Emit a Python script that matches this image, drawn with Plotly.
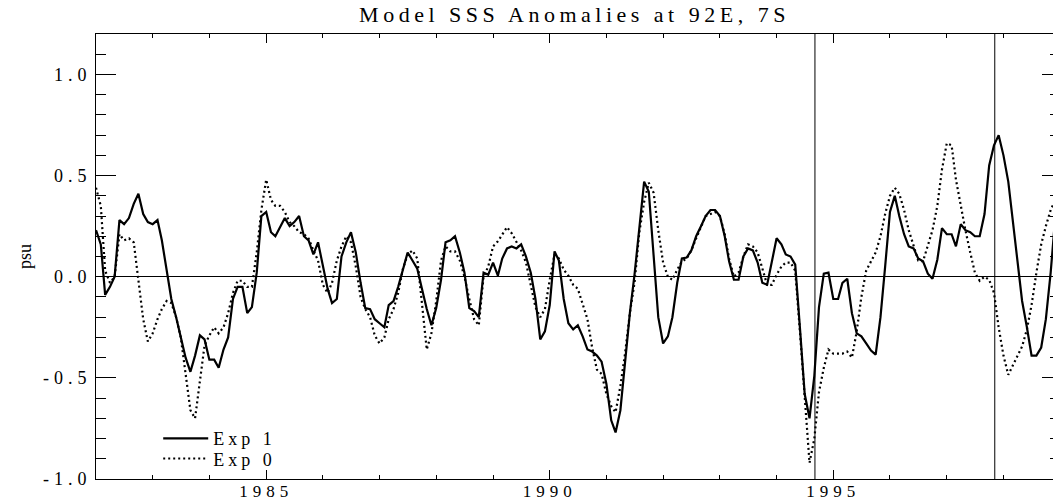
import pandas as pd
import plotly.graph_objects as go

# ---------------- data ----------------
START_MONTH = "1982-01-01"

EXP1 = [0.23, 0.16, -0.09, -0.05, 0.00, 0.28, 0.26, 0.29, 0.36, 0.41, 0.31, 0.27,
        0.26, 0.28, 0.18, 0.04, -0.11, -0.20, -0.30, -0.40, -0.47, -0.39, -0.29, -0.31,
        -0.41, -0.41, -0.45, -0.36, -0.30, -0.11, -0.05, -0.05, -0.18, -0.15, 0.02, 0.30,
        0.32, 0.22, 0.20, 0.25, 0.29, 0.25, 0.27, 0.30, 0.20, 0.18, 0.11, 0.17,
        0.05, -0.06, -0.13, -0.11, 0.10, 0.17, 0.22, 0.12, -0.03, -0.155, -0.16, -0.21,
        -0.23, -0.25, -0.14, -0.12, -0.05, 0.03, 0.12, 0.08, 0.04, -0.06, -0.16, -0.24,
        -0.155, -0.015, 0.17, 0.18, 0.20, 0.12, 0.02, -0.155, -0.17, -0.20, 0.02, 0.01,
        0.07, 0.005, 0.09, 0.14, 0.15, 0.14, 0.16, 0.10, 0.02, -0.11, -0.31, -0.27,
        -0.14, 0.125, 0.08, -0.11, -0.23, -0.26, -0.24, -0.295, -0.36, -0.37, -0.39, -0.42,
        -0.53, -0.71, -0.77, -0.66, -0.43, -0.18, 0.01, 0.23, 0.47, 0.42, 0.09, -0.20,
        -0.33, -0.295, -0.20, -0.03, 0.09, 0.095, 0.13, 0.20, 0.25, 0.30, 0.33, 0.33,
        0.30, 0.20, 0.076, -0.015, -0.015, 0.10, 0.14, 0.13, 0.07, -0.03, -0.04, 0.08,
        0.19, 0.16, 0.11, 0.10, 0.06, -0.26, -0.58, -0.70, -0.49, -0.15, 0.015, 0.02,
        -0.11, -0.11, -0.03, -0.01, -0.18, -0.28, -0.295, -0.33, -0.365, -0.385, -0.20, 0.05,
        0.32, 0.40, 0.30, 0.21, 0.15, 0.14, 0.09, 0.076, 0.015, -0.01, 0.084, 0.24,
        0.21, 0.21, 0.15, 0.26, 0.23, 0.22, 0.20, 0.20, 0.31, 0.55, 0.65, 0.70,
        0.60, 0.47, 0.28, 0.08, -0.12, -0.25, -0.39, -0.39, -0.35, -0.21, 0.02, 0.30]

EXP0 = [0.44, 0.35, 0.03, -0.03, 0.00, 0.21, 0.18, 0.19, 0.17, -0.01, -0.21, -0.32,
        -0.28, -0.21, -0.16, -0.12, -0.13, -0.20, -0.30, -0.48, -0.66, -0.70, -0.52, -0.34,
        -0.29, -0.25, -0.28, -0.25, -0.18, -0.08, -0.02, -0.02, -0.05, -0.05, 0.12, 0.33,
        0.48, 0.38, 0.35, 0.35, 0.32, 0.27, 0.25, 0.22, 0.21, 0.19, 0.13, 0.08,
        -0.04, -0.08, -0.03, 0.08, 0.15, 0.20, 0.17, 0.05, -0.10, -0.16, -0.20, -0.29,
        -0.33, -0.30, -0.21, -0.16, -0.08, 0.04, 0.11, 0.13, 0.09, -0.12, -0.36, -0.28,
        -0.12, 0.08, 0.15, 0.125, 0.125, 0.08, 0.00, -0.11, -0.21, -0.24, 0.00, 0.05,
        0.15, 0.175, 0.21, 0.245, 0.215, 0.175, 0.13, 0.07, -0.05, -0.15, -0.20, -0.16,
        -0.015, 0.11, 0.09, 0.035, 0.005, -0.04, -0.06, -0.13, -0.21, -0.35, -0.46, -0.48,
        -0.58, -0.64, -0.67, -0.54, -0.38, -0.18, -0.03, 0.22, 0.37, 0.465, 0.415, 0.23,
        0.07, 0.00, -0.015, 0.035, 0.075, 0.09, 0.13, 0.19, 0.25, 0.30, 0.31, 0.32,
        0.30, 0.21, 0.09, 0.00, 0.02, 0.10, 0.16, 0.15, 0.12, 0.04, -0.04, -0.04,
        0.01, 0.05, 0.07, 0.07, 0.03, -0.28, -0.58, -0.92, -0.80, -0.57, -0.45, -0.36,
        -0.38, -0.38, -0.38, -0.37, -0.40, -0.27, -0.10, 0.03, 0.08, 0.12, 0.20, 0.31,
        0.40, 0.44, 0.41, 0.33, 0.23, 0.15, 0.08, 0.076, 0.15, 0.23, 0.35, 0.53,
        0.66, 0.65, 0.48, 0.35, 0.23, 0.12, 0.02, -0.02, 0.00, -0.015, -0.08, -0.25,
        -0.39, -0.485, -0.44, -0.39, -0.345, -0.26, -0.14, 0.02, 0.16, 0.25, 0.33, 0.38]

SERIES_NAMES = ["Exp 1", "Exp 0"]
EVENT_DATES = ["1994-09-05", "1997-11-06"]

X_TICK_VALS = ["1985-01-01", "1990-01-01", "1995-01-01"]
X_TICK_TEXT = ["1985", "1990", "1995"]
Y_TICK_VALS = [-1.0, -0.5, 0.0, 0.5, 1.0]
Y_TICK_TEXT = ["-1.0", "-0.5", "0.0", "0.5", "1.0"]

TITLE = "Model SSS Anomalies at 92E, 7S"
Y_TITLE = "psu"
X_RANGE = ["1982-01-01", "1998-11-16"]
Y_RANGE = [-1.0, 1.2]

# ---------------- figure ----------------
FONT = "Liberation Serif, Times New Roman, serif"


def spaced(t, ls):
    return f'<span style="letter-spacing:{ls}px">{t}</span>'


months = pd.date_range(START_MONTH, periods=len(EXP1), freq="MS")

fig = go.Figure()
fig.add_trace(go.Scatter(x=months, y=EXP1, mode="lines", name=spaced(SERIES_NAMES[0], 4),
                         line=dict(color="black", width=2.2), legend="legend"))
fig.add_trace(go.Scatter(x=months, y=EXP0, mode="lines", name=spaced(SERIES_NAMES[1], 4),
                         line=dict(color="black", width=2.2, dash="2px,3px"),
                         legend="legend2"))
# invisible trace so the right-hand (inward ticks) axis is drawn
fig.add_trace(go.Scatter(x=[], y=[], yaxis="y2", showlegend=False, hoverinfo="skip"))

for d in EVENT_DATES:
    fig.add_vline(x=d, line=dict(color="black", width=1))

legend_style = dict(xanchor="left", yanchor="top", bgcolor="rgba(0,0,0,0)", borderwidth=0,
                    font=dict(family=FONT, size=18, color="black"), itemwidth=45)

fig.update_layout(
    width=1053, height=503,
    margin=dict(l=96, r=0, t=34, b=24, autoexpand=False),
    paper_bgcolor="white", plot_bgcolor="white",
    font=dict(family=FONT, size=18, color="black"),
    title=dict(text=spaced(TITLE, 4.5), x=0.5, xref="paper", xanchor="center",
               y=1 - 14 / 503, yref="container", yanchor="middle",
               font=dict(family=FONT, size=22, color="black"), automargin=False),
    showlegend=True,
    legend=dict(x=0.065, y=0.132, **legend_style),
    legend2=dict(x=0.065, y=0.087, **legend_style),
    xaxis=dict(range=X_RANGE, type="date", automargin=False,
               showline=True, linecolor="black", linewidth=1, mirror="ticks",
               ticks="inside", ticklen=9, tickwidth=1, tickcolor="black",
               tickmode="array", tickvals=X_TICK_VALS,
               ticktext=[spaced(t, 5) for t in X_TICK_TEXT],
               ticklabelstandoff=-3,
               minor=dict(ticks="inside", ticklen=4, tickwidth=1, tickcolor="black",
                          dtick="M12", tick0="1982-01-01", showgrid=False),
               showgrid=False, zeroline=False,
               tickfont=dict(family=FONT, size=17, color="black")),
    yaxis=dict(range=Y_RANGE, automargin=False,
               showline=True, linecolor="black", linewidth=1, mirror=False,
               ticks="inside", ticklen=20, tickwidth=1, tickcolor="black",
               tickmode="array", tickvals=Y_TICK_VALS,
               ticktext=[spaced(t, 5) for t in Y_TICK_TEXT],
               minor=dict(ticks="inside", ticklen=10, tickwidth=1, tickcolor="black",
                          dtick=0.1, tick0=0, showgrid=False),
               showgrid=False, zeroline=True, zerolinecolor="black", zerolinewidth=1,
               title=dict(text=Y_TITLE, standoff=6, font=dict(family=FONT, size=18)),
               tickfont=dict(family=FONT, size=18, color="black")),
    yaxis2=dict(range=Y_RANGE, overlaying="y", side="right", showline=False,
                automargin=False,
                ticks="inside", ticklen=11, tickwidth=1, tickcolor="black",
                tickmode="array", tickvals=Y_TICK_VALS, showticklabels=False,
                minor=dict(ticks="inside", ticklen=3, tickwidth=1, tickcolor="black",
                           dtick=0.1, tick0=0, showgrid=False),
                showgrid=False, zeroline=False),
)

fig.write_html(
    "out.html",
    config={"displayModeBar": False},
    post_script="document.body.style.margin='0';document.body.style.overflow='hidden';",
)
